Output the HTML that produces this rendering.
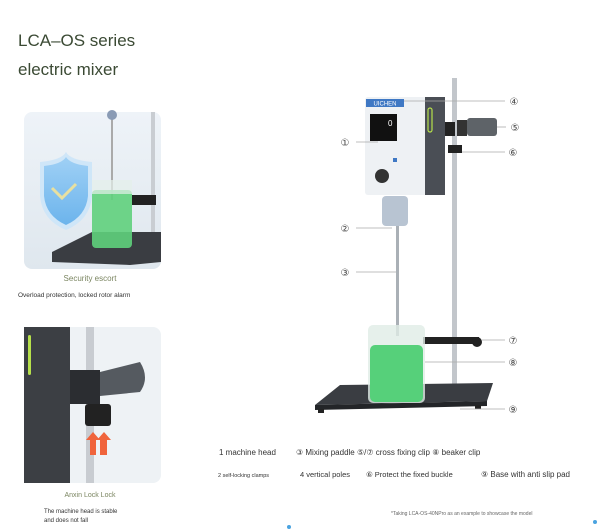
<!DOCTYPE html>
<html><head><meta charset="utf-8"><style>
body{margin:0;width:600px;height:529px;background:#fff;position:relative;overflow:hidden;font-family:"Liberation Sans",sans-serif}
.t{position:absolute;white-space:nowrap}
</style></head><body>
<div class="t" style="left:18px;top:31px;font-size:17px;color:#3b4a34">LCA–OS series</div>
<div class="t" style="left:18px;top:60px;font-size:17px;color:#3b4a34">electric mixer</div>

<svg width="600" height="529" style="position:absolute;left:0;top:0">
<defs>
<linearGradient id="bg1" x1="0" y1="0" x2="0" y2="1"><stop offset="0" stop-color="#eef3f8"/><stop offset="1" stop-color="#dfe7ee"/></linearGradient>
<linearGradient id="sh" x1="0" y1="0" x2="0" y2="1"><stop offset="0" stop-color="#9fd0f5"/><stop offset="1" stop-color="#6cb4ec"/></linearGradient>
</defs>
<!-- panel 1 -->
<rect x="24" y="112" width="137" height="157" rx="8" fill="url(#bg1)"/>
<path d="M40 162 Q62 160 66 152 Q70 160 92 162 L92 196 Q90 220 66 230 Q42 220 40 196Z" fill="#cfe6f8" />
<path d="M44 166 Q62 164 66 157 Q70 164 88 166 L88 196 Q86 216 66 225 Q46 216 44 196Z" fill="url(#sh)"/>
<path d="M52 188 L62 198 L76 184" stroke="#e8e0a0" stroke-width="3" fill="none"/>
<rect x="111" y="115" width="2" height="85" fill="#aaa"/>
<circle cx="112" cy="115" r="5" fill="#8a9bb5"/>
<rect x="151" y="112" width="4" height="140" fill="#c9cdd2"/>
<polygon points="52,252 92,232 161,232 161,262 130,265 52,262" fill="#3a3d42"/>
<rect x="92" y="190" width="40" height="58" rx="4" fill="#5fd07c" opacity=".9"/>
<rect x="92" y="180" width="40" height="14" fill="#e4f0ea" opacity=".7"/>
<rect x="132" y="195" width="24" height="10" fill="#222"/>
<text x="90" y="281" font-size="8" fill="#7a8560" text-anchor="middle" font-family="Liberation Sans">Security escort</text>
<text x="18" y="297" font-size="6.5" fill="#333" font-family="Liberation Sans">Overload protection, locked rotor alarm</text>

<!-- panel 2 -->
<rect x="24" y="327" width="137" height="156" rx="8" fill="#eef2f5"/>
<rect x="24" y="327" width="46" height="156" fill="#3c3f44"/>
<rect x="28" y="335" width="3" height="40" rx="1.5" fill="#b6e04b"/>
<rect x="86" y="327" width="8" height="156" fill="#c8ccd1"/>
<rect x="70" y="370" width="30" height="34" fill="#2b2d31"/>
<path d="M100 372 L140 362 Q150 378 140 392 L100 396Z" fill="#555a60"/>
<rect x="85" y="404" width="26" height="22" rx="3" fill="#222"/>
<path d="M90 455 L90 440 L86 440 L93 432 L100 440 L96 440 L96 455Z M100 455 L100 440 L97 440 L104 432 L111 440 L107 440 L107 455Z" fill="#f0643c"/>
<text x="90" y="497" font-size="7" fill="#7a8560" text-anchor="middle" font-family="Liberation Sans">Anxin Lock Lock</text>
<text x="44" y="513" font-size="6" fill="#333" font-family="Liberation Sans">The machine head is stable</text>
<text x="44" y="522" font-size="6" fill="#333" font-family="Liberation Sans">and does not fall</text>

<!-- main device -->
<rect x="452" y="78" width="5" height="310" fill="#c2c6cb"/>
<polygon points="340,385 493,383 487,401 315,405" fill="#3a3d42"/>
<polygon points="315,405 487,401 487,406 315,410" fill="#232528"/>
<rect x="318" y="409" width="6" height="4" fill="#222"/><rect x="475" y="405" width="6" height="4" fill="#222"/>
<rect x="365" y="97" width="62" height="98" rx="3" fill="#eef1f4"/>
<rect x="425" y="97" width="20" height="98" fill="#4a4e55"/>
<rect x="428" y="108" width="4" height="24" rx="2" fill="none" stroke="#b6e04b" stroke-width="1.2"/>
<rect x="366" y="99" width="38" height="8" fill="#3f78c4"/>
<text x="385" y="105.5" font-size="6" fill="#fff" text-anchor="middle" font-family="Liberation Sans">UICHEN</text>
<rect x="370" y="114" width="27" height="27" fill="#111"/>
<text x="388" y="126" font-size="8" fill="#fff" font-family="Liberation Sans">0</text>
<circle cx="382" cy="176" r="7" fill="#333"/>
<rect x="393" y="158" width="4" height="4" fill="#3f78c4"/>
<rect x="445" y="122" width="10" height="14" fill="#222"/>
<rect x="457" y="120" width="10" height="16" fill="#333"/>
<rect x="467" y="118" width="30" height="18" rx="3" fill="#5e6368"/>
<rect x="448" y="145" width="14" height="8" fill="#222"/>
<rect x="382" y="196" width="26" height="30" rx="4" fill="#b8c4d2"/>
<rect x="396" y="226" width="3" height="110" fill="#aab0b6"/>
<rect x="423" y="337" width="56" height="7" fill="#222"/>
<circle cx="477" cy="342" r="5" fill="#222"/>
<rect x="368" y="325" width="57" height="78" rx="5" fill="#e0ece6" opacity=".8"/>
<rect x="370" y="345" width="53" height="57" rx="5" fill="#56d07a"/>
<g stroke="#aaa" stroke-width="0.8" fill="none">
<line x1="356" y1="142" x2="378" y2="142"/>
<line x1="404" y1="101" x2="505" y2="101"/>
<line x1="497" y1="127" x2="506" y2="127"/>
<line x1="462" y1="152" x2="505" y2="152"/>
<line x1="356" y1="228" x2="392" y2="228"/>
<line x1="356" y1="272" x2="396" y2="272"/>
<line x1="482" y1="340" x2="505" y2="340"/>
<line x1="425" y1="362" x2="505" y2="362"/>
<line x1="460" y1="409" x2="505" y2="409"/>
</g>
<g font-size="10" fill="#444" text-anchor="middle" font-family="Liberation Sans, DejaVu Sans">
<text x="345" y="146">①</text><text x="514" y="105">④</text><text x="515" y="131">⑤</text>
<text x="513" y="156">⑥</text><text x="345" y="232">②</text><text x="345" y="276">③</text>
<text x="513" y="344">⑦</text><text x="513" y="366">⑧</text><text x="513" y="413">⑨</text>
</g>
<g font-family="Liberation Sans, DejaVu Sans" fill="#333">
<text x="219" y="455" font-size="8">1 machine head</text>
<text x="296" y="455" font-size="8">③ Mixing paddle ⑤/⑦ cross fixing clip ⑧ beaker clip</text>
<text x="218" y="477" font-size="5.5">2 self-locking clamps</text>
<text x="300" y="477" font-size="7.5">4 vertical poles</text>
<text x="366" y="477" font-size="7.5">⑥ Protect the fixed buckle</text>
<text x="481" y="477" font-size="8">⑨ Base with anti slip pad</text>
<text x="391" y="515" font-size="5" fill="#666">*Taking LCA-OS-40NPro as an example to showcase the model</text>
</g>
<circle cx="289" cy="527" r="2" fill="#4aa3e0"/><circle cx="595" cy="522" r="2" fill="#4aa3e0"/>
</svg>
</body></html>
